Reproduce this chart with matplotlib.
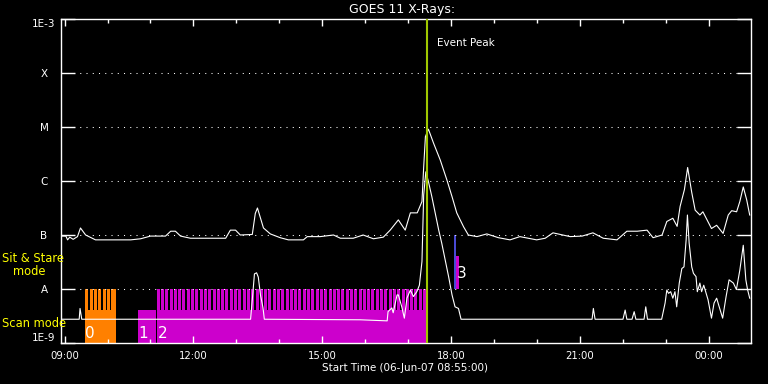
import matplotlib
matplotlib.use('Agg')
import matplotlib.pyplot as plt
import numpy as np

# ---------------- data (time in decimal hours of 06-Jun-07; >24 = next day) -------------
long_t = [8.93, 9.03, 9.07, 9.12, 9.20, 9.30, 9.37, 9.49, 9.72, 10.54, 10.77, 11.00, 11.35,
          11.47, 11.58, 11.70, 11.93, 12.75, 12.86, 12.98, 13.09, 13.37, 13.44, 13.49, 13.63,
          13.79, 14.02, 14.21, 14.56, 14.65, 14.95, 15.26, 15.42, 15.72, 15.95, 16.19, 16.42,
          16.58, 16.77, 16.93, 17.05, 17.21, 17.32, 17.36, 17.40, 17.47, 17.59, 17.745, 17.90,
          18.02, 18.13, 18.29, 18.40, 18.60, 18.83, 19.10, 19.37, 19.60, 19.99, 20.19, 20.37,
          20.77, 21.05, 21.30, 21.54, 21.86, 22.09, 22.33, 22.56, 22.70, 22.91, 23.02, 23.16,
          23.26, 23.33, 23.43, 23.505, 23.60, 23.68, 23.79, 23.86, 24.06, 24.18, 24.33, 24.45,
          24.53, 24.645, 24.72, 24.80, 24.88, 24.95]
long_log = [-7.02, -7.02, -7.09, -7.04, -7.08, -7.03, -6.87, -7.00, -7.09, -7.09, -7.07, -7.02, -7.02,
            -6.93, -6.93, -7.02, -7.06, -7.06, -6.91, -6.91, -7.00, -6.99, -6.60, -6.50, -6.87,
            -6.98, -7.05, -7.09, -7.09, -7.03, -7.03, -7.00, -7.06, -7.06, -7.00, -7.07, -7.04,
            -6.91, -6.72, -6.91, -6.59, -6.59, -6.38, -5.74, -5.18, -5.04, -5.30, -5.61, -5.98,
            -6.29, -6.59, -6.85, -7.00, -7.03, -6.98, -7.05, -7.09, -7.03, -7.09, -7.06, -6.96,
            -7.03, -7.02, -6.96, -7.06, -7.09, -6.93, -6.93, -6.91, -7.05, -7.00, -6.75, -6.69,
            -6.84, -6.47, -6.16, -5.75, -6.21, -6.54, -6.63, -6.57, -6.88, -6.82, -6.97, -6.63,
            -6.55, -6.57, -6.38, -6.11, -6.35, -6.63]

short_t = [8.93, 9.34, 9.36, 9.40, 13.33, 13.37, 13.42, 13.47, 13.51, 13.56, 13.62, 13.65,
           15.88, 16.51, 16.53, 16.62, 16.65, 16.74, 16.77, 16.85, 16.91, 16.97, 17.05, 17.12,
           17.20, 17.26, 17.32, 17.34, 17.36, 17.41, 17.47, 17.55, 17.63, 17.71, 17.78, 17.86,
           17.94, 18.02, 18.09, 18.17, 18.23, 21.28, 21.31, 21.35, 22.00, 22.05, 22.09, 22.21,
           22.26, 22.30, 22.49, 22.53, 22.57, 22.90, 22.98, 23.02, 23.06, 23.11, 23.16, 23.21,
           23.25, 23.31, 23.37, 23.42, 23.47, 23.50, 23.54, 23.60, 23.64, 23.70, 23.73, 23.79,
           23.83, 23.88, 23.98, 24.06, 24.12, 24.18, 24.24, 24.32, 24.40, 24.47, 24.57, 24.64,
           24.72, 24.80, 24.86, 24.90, 24.95]
short_log = [-8.56, -8.56, -8.36, -8.56, -8.56, -8.20, -7.72, -7.70, -7.78, -8.11, -8.35, -8.56,
             -8.57, -8.59, -8.42, -8.35, -8.44, -8.11, -8.11, -8.33, -8.54, -8.17, -8.02, -8.14,
             -8.05, -7.93, -7.49, -6.87, -6.26, -5.83, -6.01, -6.29, -6.60, -6.91, -7.15, -7.46,
             -7.77, -8.11, -8.33, -8.36, -8.56, -8.56, -8.36, -8.56, -8.56, -8.39, -8.56, -8.56,
             -8.42, -8.56, -8.56, -8.33, -8.56, -8.56, -8.26, -8.02, -8.08, -8.05, -8.17, -8.05,
             -8.33, -7.89, -7.62, -7.59, -7.09, -6.63, -7.15, -7.59, -7.71, -7.77, -8.05, -7.89,
             -8.05, -7.93, -8.20, -8.54, -8.26, -8.17, -8.33, -8.54, -8.14, -7.83, -7.89, -8.01,
             -7.65, -7.19, -7.83, -8.01, -8.17]

level_exp = [-9, -8, -7, -6, -5, -4, -3]
level_names = ['1E-9', 'A', 'B', 'C', 'M', 'X', '1E-3']

x_major = [9, 12, 15, 18, 21, 24]
x_labels = ['09:00', '12:00', '15:00', '18:00', '21:00', '00:00']
x_minor = [10, 11, 13, 14, 16, 17, 19, 20, 22, 23]

t_start = 8 + 55 / 60
t_end = 24.98
event_peak = 17.44

# observation blocks
obs_start = [9.466, 10.70, 11.16, 18.11]
obs_end = [10.186, 11.13, 17.42, 18.19]
obs_bottom = [-9, -9, -9, -8]
obs_top = [-8, -8.39, -8, -7.39]
obs_label = ['0', '1', '2', '3']
obs_label_y = [-8.91, -8.91, -8.91, -7.80]
obs_color = ['#ff8000', '#cc00cc', '#cc00cc', '#cc00cc']
scan_level = -8.39

# gaps between sit & stare exposures (black slits)
gap_width = 0.03
gaps0 = [9.566, 9.668, 9.769, 9.868, 9.978, 10.07]
gaps2 = [11.23, 11.33, 11.43, 11.53, 11.63, 11.73, 11.83, 11.93, 12.03, 12.13, 12.23, 12.33,
         12.43, 12.53, 12.63, 12.73, 12.83, 12.93, 13.03, 13.13, 13.23, 13.33, 13.43, 13.53,
         13.63, 13.73, 13.83, 13.93, 14.03, 14.13, 14.23, 14.33, 14.43, 14.53, 14.63, 14.73,
         14.83, 14.93, 15.03, 15.13, 15.23, 15.33, 15.43, 15.53, 15.63, 15.73, 15.83, 15.93,
         16.03, 16.13, 16.23, 16.33, 16.43, 16.53, 16.63, 16.73, 16.83, 16.93, 17.03, 17.13,
         17.23, 17.33]

blue_t = 18.10
blue_range = [-8, -7]

# ---------------- figure -------------
W, H = 768, 384
fig = plt.figure(figsize=(W / 100, H / 100), dpi=100, facecolor='black')
ax = fig.add_axes([61 / W, 41 / H, 690 / W, 324 / H], facecolor='black')
ax.set_yscale('log')
ax.set_xlim(t_start, t_end)
ax.set_ylim(1e-9, 1e-3)

# observation bars
for s, e, b, tp, c in zip(obs_start, obs_end, obs_bottom, obs_top, obs_color):
    ax.bar(s, 10 ** tp - 10 ** b, width=e - s, bottom=10 ** b, align='edge',
           color=c, linewidth=0, zorder=1)
for g in (gaps0, gaps2):
    ax.bar(g, 1e-8 - 10 ** scan_level, width=gap_width, bottom=10 ** scan_level,
           align='center', color='black', linewidth=0, zorder=1.5)
ax.vlines([blue_t], 10 ** blue_range[0], 10 ** blue_range[1], color='#5a5aff', lw=1.2,
          zorder=1.2)
for s, lab, ly in zip(obs_start, obs_label, obs_label_y):
    ax.text(s + 0.02, 10 ** ly, lab, color='white', fontsize=11, ha='left', va='baseline',
            zorder=4)

# dotted level lines
for e in level_exp[1:-1]:
    ax.axhline(10 ** e, color='white', lw=0.75, ls=(0, (1, 5)), zorder=2)

# traces
ax.plot(long_t, 10 ** np.array(long_log), color='white', lw=0.8, zorder=3)
ax.plot(short_t, 10 ** np.array(short_log), color='white', lw=0.8, zorder=3)

# event peak
ax.axvline(event_peak, color='#a0c800', lw=1.5, zorder=5)
ax.text(event_peak + 0.22, 10 ** -3.45, 'Event Peak', color='white', fontsize=7.5,
        ha='left', va='center')

# axes styling
for sp in ax.spines.values():
    sp.set_color('white')
    sp.set_linewidth(1.0)
ax.set_xticks(x_major)
ax.set_xticklabels(x_labels)
ax.set_xticks(x_minor, minor=True)
ax.tick_params(axis='x', which='major', direction='in', length=5, width=1, color='white',
               top=True, bottom=True, labelcolor='white', labelsize=7.3, pad=5.5)
ax.tick_params(axis='x', which='minor', direction='in', length=2.6, width=1, color='white',
               top=True, bottom=True)
ax.set_yticks([10 ** e for e in level_exp])
ax.set_yticklabels(level_names)
ax.yaxis.set_minor_locator(matplotlib.ticker.NullLocator())
ax.tick_params(axis='y', which='major', direction='in', length=10, width=1, color='white',
               left=True, right=True, labelcolor='white', labelsize=7.5, pad=12.2)
ylbls = ax.get_yticklabels()
for lbl in ylbls:
    lbl.set_horizontalalignment('center')
ylbls[0].set_verticalalignment('bottom')
ylbls[-1].set_verticalalignment('top')

# texts
fig.text(402 / W, 1 - 10 / H, 'GOES 11 X-Rays:', color='white', fontsize=9,
         ha='center', va='center')
fig.text(405 / W, 1 - 368 / H, 'Start Time (06-Jun-07 08:55:00)', color='white', fontsize=7.5,
         ha='center', va='center')
fig.text(2 / W, 1 - 259 / H, 'Sit & Stare', color='yellow', fontsize=8.3, ha='left', va='center')
fig.text(13 / W, 1 - 271.5 / H, 'mode', color='yellow', fontsize=8.3, ha='left', va='center')
fig.text(2 / W, 1 - 323.5 / H, 'Scan mode', color='yellow', fontsize=8.3, ha='left', va='center')

fig.savefig('out.png', dpi=100, facecolor='black')
